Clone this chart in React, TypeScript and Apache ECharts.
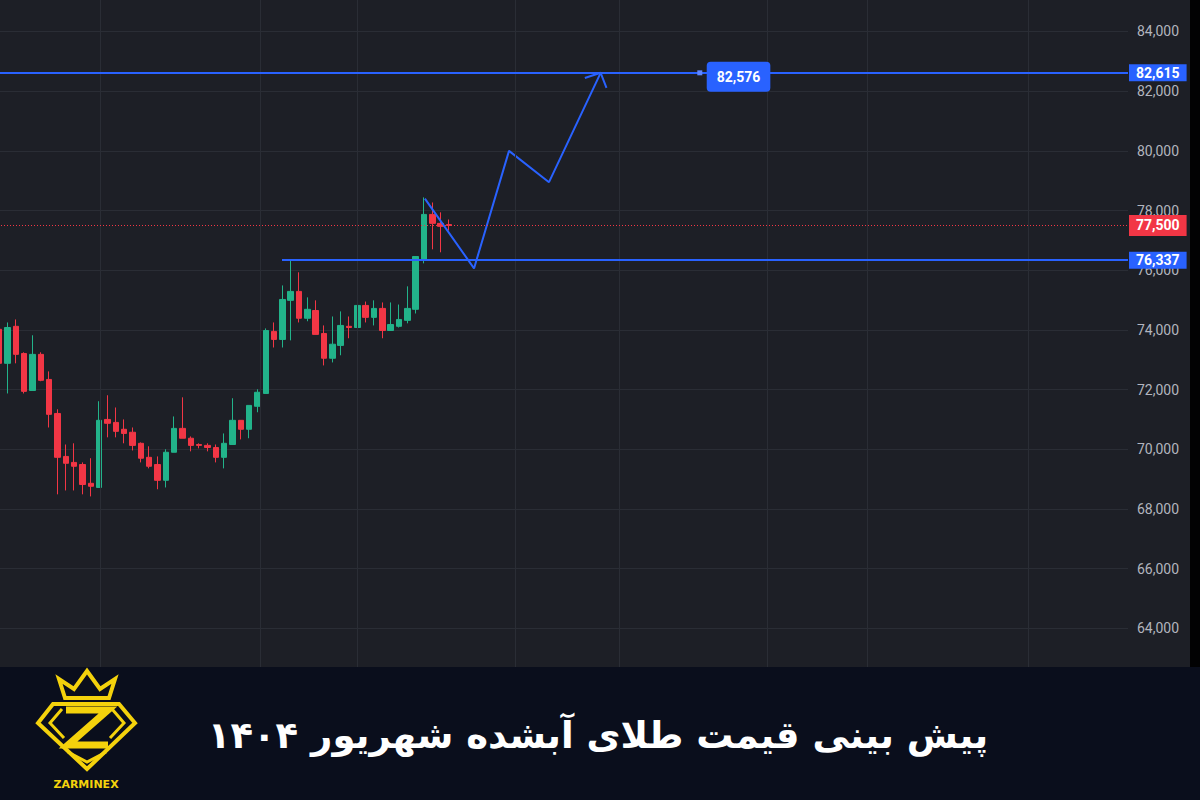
import React, { useEffect, useRef } from 'react';
import * as echarts from 'echarts';

// [open, close, low, high]
const candles: number[][] = [
  [74020, 72880, 72710, 74150],
  [72880, 74080, 71870, 74250],
  [74120, 73180, 72880, 74350],
  [73210, 71940, 71870, 73250],
  [71970, 73180, 71970, 73820],
  [73180, 72310, 72280, 73250],
  [72340, 71170, 70730, 72610],
  [71200, 69730, 68490, 71340],
  [69760, 69530, 68620, 70160],
  [69560, 69430, 68620, 70200],
  [69490, 68820, 68490, 69560],
  [68860, 68760, 68420, 69700],
  [68720, 70970, 68720, 71610],
  [71000, 70870, 70400, 71810],
  [70900, 70600, 70400, 71400],
  [70670, 70530, 70200, 71000],
  [70570, 70130, 69960, 70730],
  [70200, 69700, 69560, 70230],
  [69730, 69430, 69360, 70100],
  [69490, 68960, 68660, 69760],
  [68960, 69900, 68720, 70000],
  [69900, 70700, 69900, 71100],
  [70700, 70370, 70370, 71740],
  [70370, 70130, 69930, 70430],
  [70160, 70130, 70030, 70200],
  [70130, 70060, 69930, 70200],
  [70060, 69730, 69560, 70160],
  [69730, 70200, 69360, 70530],
  [70160, 70970, 70160, 71710],
  [70970, 70670, 70330, 70970],
  [70670, 71470, 70370, 71470],
  [71440, 71910, 71240, 72010],
  [71870, 73980, 71870, 74050],
  [73950, 73680, 73410, 74250],
  [73680, 75020, 73410, 75490],
  [74990, 75290, 73650, 76360],
  [75290, 74390, 74250, 75930],
  [74390, 74690, 74290, 75090],
  [74650, 73850, 73850, 74990],
  [73880, 73050, 72810, 74150],
  [73050, 73520, 72910, 74450],
  [73480, 74150, 73150, 74620],
  [74120, 74080, 73720, 74450],
  [74080, 74820, 73980, 75050],
  [74820, 74420, 74250, 74950],
  [74420, 74720, 74150, 74990],
  [74720, 73980, 73720, 74920],
  [73980, 74180, 73980, 74920],
  [74120, 74350, 74080, 74850],
  [74320, 74720, 74220, 75460],
  [74690, 76460, 74550, 76460],
  [76330, 77870, 76230, 78440],
  [77870, 77570, 76700, 78270],
  [77570, 77470, 76600, 77940],
  [77530, 77500, 77330, 77700],
];

const slotCount = 136;
const categories = Array.from({ length: slotCount }, (_, i) => `${i}`);

const yMin = 62000;
const yMax = 86000;
const yStep = 2000;

const lastPrice = 77500;
const resistance = 82615;
const support = 76337;
const supportStart = 33.95;
const target = 82576;
const targetLabelPos = [88.75, 82480];
const handlePos = [84.1, 82615];

const zigzag = [
  [51.1, 78400],
  [57.0, 76060],
  [61.2, 80000],
  [66.0, 78950],
  [72.2, 82615],
];
const arrowHead = [
  [70.3, 82440],
  [72.2, 82615],
  [72.9, 82110],
];
const timeGridX = [12.1, 31.3, 43.0, 62.0, 74.4, 92.2, 104.2, 123.5];

const title = 'پیش بینی قیمت طلای آبشده شهریور ۱۴۰۴';
const brand = 'ZARMINEX';

const BG = '#1d1f26';
const GRID = '#2a2d35';
const UP = '#22b38a';
const DOWN = '#f23645';
const BLUE = '#2962ff';
const GOLD = '#f4d20c';
const BANNER = '#0a0e1c';

const fmt = (v: number) => v.toLocaleString('en-US');

export default function App() {
  const ref = useRef<HTMLDivElement>(null);

  useEffect(() => {
    if (!ref.current) return;
    const chart = echarts.init(ref.current, null, { renderer: 'svg' });

    const lblFont = { fontFamily: 'Roboto', fontSize: 14, fontWeight: 'bold' as const, color: '#ffffff' };

    const option: any = {
      animation: false,
      backgroundColor: BG,
      grid: { left: -5, right: 72, top: -28.2, bottom: 112, containLabel: false, outerBoundsMode: 'none' },
      xAxis: [
        { type: 'category', data: categories, boundaryGap: true, show: false },
        { type: 'value', min: -0.5, max: slotCount - 0.5, show: false },
      ],
      yAxis: {
        type: 'value',
        position: 'right',
        min: yMin,
        max: yMax,
        interval: yStep,
        axisLine: { show: true, lineStyle: { color: GRID } },
        axisTick: { show: false },
        axisLabel: {
          color: '#b2b5be',
          fontSize: 14,
          fontFamily: 'Roboto',
          margin: 9,
          formatter: (v: number) => (v <= yMin || v >= yMax ? '' : fmt(v)),
        },
        splitLine: { show: true, lineStyle: { color: GRID, width: 1 } },
      },
      series: [
        {
          type: 'line',
          name: 'grid',
          xAxisIndex: 1,
          data: [[0, yMin]],
          symbol: 'none',
          lineStyle: { opacity: 0 },
          silent: true,
          z: 1,
          markLine: {
            silent: true,
            symbol: ['none', 'none'],
            label: { show: false },
            lineStyle: { color: GRID, width: 1, type: 'solid' },
            data: timeGridX.map((x) => ({ xAxis: x })),
          },
        },
        {
          type: 'candlestick',
          data: candles,
          barWidth: 6,
          z: 2,
          itemStyle: { color: UP, color0: DOWN, borderColor: UP, borderColor0: DOWN, borderWidth: 1 },
          markLine: {
            silent: true,
            symbol: ['none', 'none'],
            lineStyle: { color: DOWN, type: [1, 2], width: 1, opacity: 1 },
            label: {
              position: 'end',
              distance: 1,
              formatter: fmt(lastPrice),
              backgroundColor: DOWN,
              padding: [4, 7, 3, 7],
              ...lblFont,
            },
            data: [{ yAxis: lastPrice }],
          },
        },
        {
          type: 'line',
          name: 'projection',
          xAxisIndex: 1,
          data: zigzag,
          symbol: 'none',
          lineStyle: { color: BLUE, width: 2 },
          z: 3,
          markLine: {
            silent: true,
            symbol: ['none', 'none'],
            lineStyle: { color: BLUE, width: 2, type: 'solid' },
            label: {
              position: 'end',
              distance: 1,
              backgroundColor: BLUE,
              padding: [2, 7, 1, 7],
              ...lblFont,
            },
            data: [
              { yAxis: resistance, label: { formatter: fmt(resistance) } },
              [
                { coord: [supportStart, support], label: { formatter: fmt(support) } },
                { coord: [slotCount - 0.5, support] },
              ],
            ],
          },
          markPoint: {
            silent: true,
            data: [
              {
                coord: handlePos,
                symbol: 'rect',
                symbolSize: 5,
                itemStyle: { color: '#5f86ff' },
                label: { show: false },
              },
              {
                coord: targetLabelPos,
                symbol: 'rect',
                symbolSize: 1,
                itemStyle: { color: BLUE },
                label: {
                  show: true,
                  position: 'inside',
                  formatter: fmt(target),
                  backgroundColor: BLUE,
                  borderRadius: 4,
                  padding: [8, 10],
                  ...lblFont,
                },
              },
            ],
          },
        },
        {
          type: 'line',
          name: 'arrow',
          xAxisIndex: 1,
          data: arrowHead,
          symbol: 'none',
          lineStyle: { color: BLUE, width: 2 },
          z: 3,
        },
      ],
      graphic: [
        { type: 'rect', z: 100, silent: true, shape: { x: 1190, y: 0, width: 10, height: 668 }, style: { fill: '#020203' } },
        { type: 'rect', z: 100, silent: true, shape: { x: 0, y: 667, width: 1200, height: 133 }, style: { fill: BANNER } },
        {
          type: 'text',
          z: 101,
          x: 598,
          y: 735,
          style: {
            text: title,
            fill: '#ffffff',
            font: 'bold 37px "DejaVu Sans"',
            align: 'center',
            verticalAlign: 'middle',
          },
        },
        {
          type: 'polygon',
          z: 101,
          shape: { points: [[65, 698], [59, 679], [74, 689], [87, 671], [100, 689], [115, 679], [109, 698]] },
          style: { fill: 'none', stroke: GOLD, lineWidth: 4, lineJoin: 'miter' },
        },
        {
          type: 'polygon',
          z: 101,
          shape: { points: [[53, 704], [119, 704], [135, 723], [87, 769], [38, 723]] },
          style: { fill: 'none', stroke: GOLD, lineWidth: 4, lineJoin: 'miter' },
        },
        {
          type: 'polyline',
          z: 101,
          shape: { points: [[62, 709], [50, 723], [64, 738]] },
          style: { fill: 'none', stroke: GOLD, lineWidth: 3 },
        },
        {
          type: 'polyline',
          z: 101,
          shape: { points: [[112, 709], [124, 723], [110, 738]] },
          style: { fill: 'none', stroke: GOLD, lineWidth: 3 },
        },
        {
          type: 'polyline',
          z: 101,
          shape: { points: [[68, 752], [87, 762], [106, 752]] },
          style: { fill: 'none', stroke: GOLD, lineWidth: 3 },
        },
        {
          type: 'polyline',
          z: 101,
          shape: { points: [[66, 710], [108, 710], [68, 745], [108, 745]] },
          style: { fill: 'none', stroke: GOLD, lineWidth: 7, lineJoin: 'miter' },
        },
        {
          type: 'text',
          z: 101,
          x: 86,
          y: 784,
          style: {
            text: brand,
            fill: GOLD,
            font: 'bold 11px "DejaVu Sans"',
            align: 'center',
            verticalAlign: 'middle',
          },
        },
      ],
    };

    chart.setOption(option);
    return () => chart.dispose();
  }, []);

  return <div ref={ref} style={{ position: 'fixed', left: 0, top: 0, width: 1200, height: 800 }} />;
}
